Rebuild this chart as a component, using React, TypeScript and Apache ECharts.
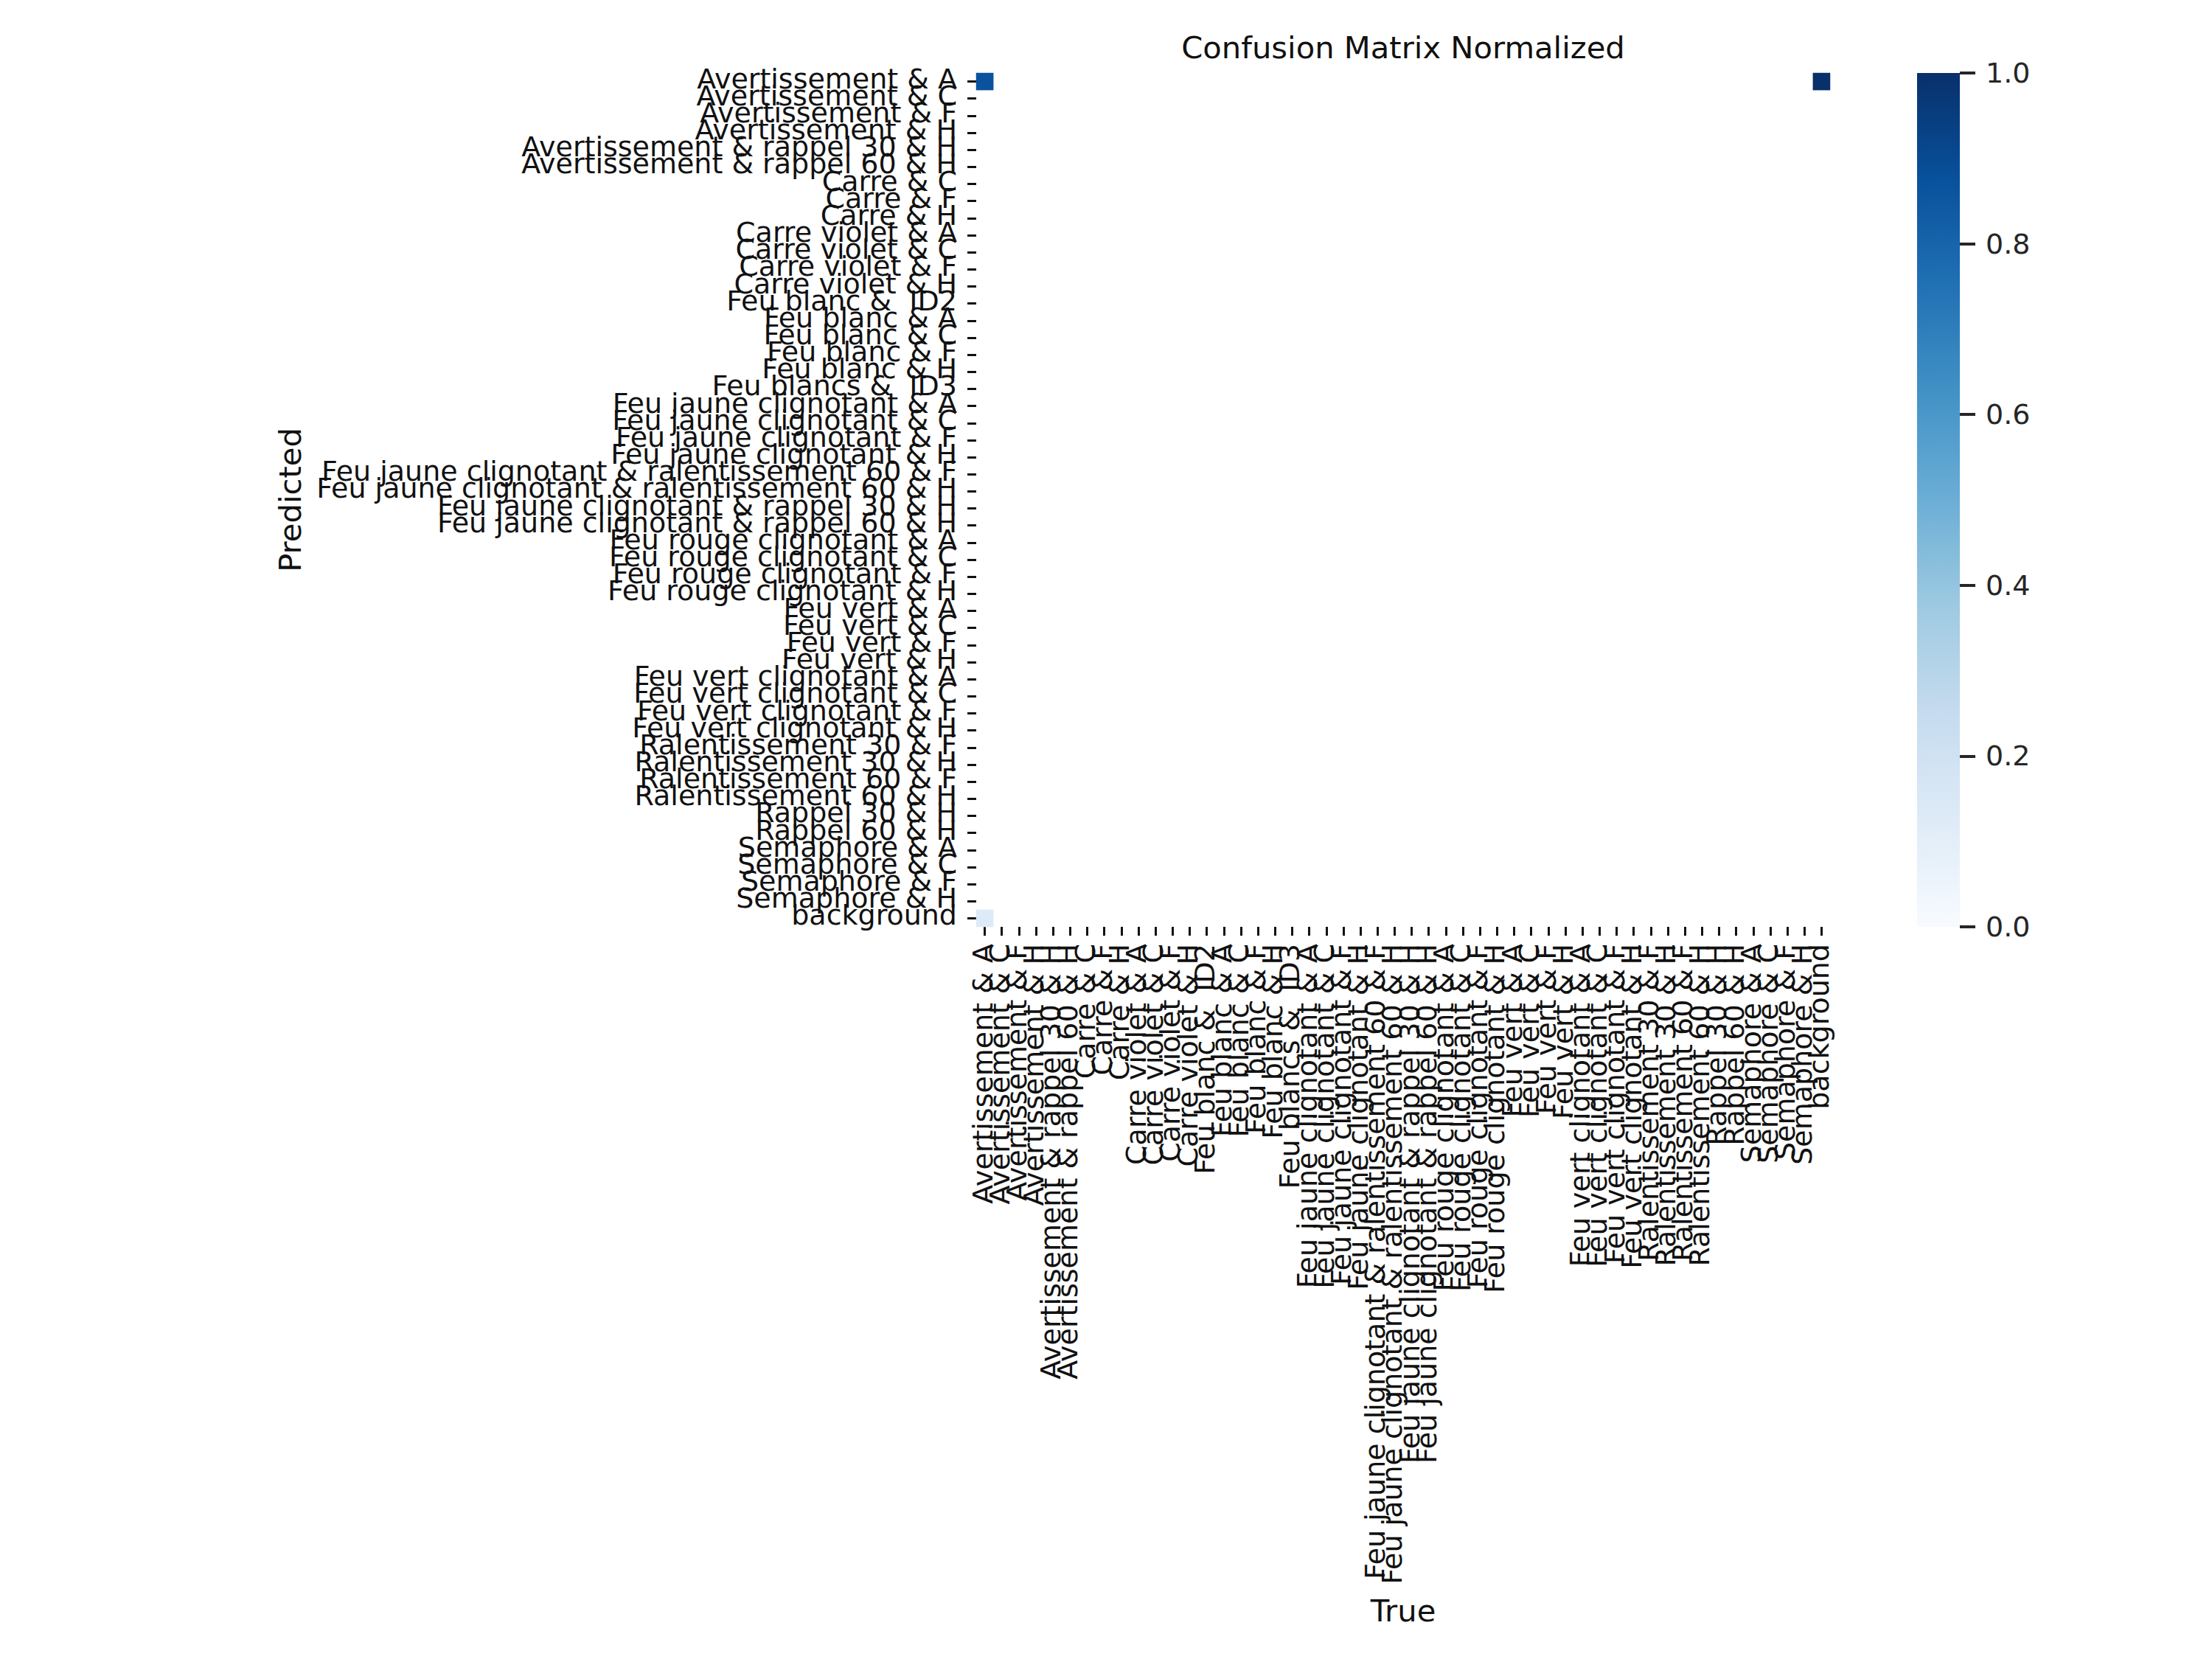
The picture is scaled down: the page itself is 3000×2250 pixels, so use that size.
import React, { useEffect, useRef } from "react";
import * as echarts from "echarts";

const categories = [
  "Avertissement & A",
  "Avertissement & C",
  "Avertissement & F",
  "Avertissement & H",
  "Avertissement & rappel 30 & H",
  "Avertissement & rappel 60 & H",
  "Carre & C",
  "Carre & F",
  "Carre & H",
  "Carre violet & A",
  "Carre violet & C",
  "Carre violet & F",
  "Carre violet & H",
  "Feu blanc &  ID2",
  "Feu blanc & A",
  "Feu blanc & C",
  "Feu blanc & F",
  "Feu blanc & H",
  "Feu blancs &  ID3",
  "Feu jaune clignotant & A",
  "Feu jaune clignotant & C",
  "Feu jaune clignotant & F",
  "Feu jaune clignotant & H",
  "Feu jaune clignotant & ralentissement 60 & F",
  "Feu jaune clignotant & ralentissement 60 & H",
  "Feu jaune clignotant & rappel 30 & H",
  "Feu jaune clignotant & rappel 60 & H",
  "Feu rouge clignotant & A",
  "Feu rouge clignotant & C",
  "Feu rouge clignotant & F",
  "Feu rouge clignotant & H",
  "Feu vert & A",
  "Feu vert & C",
  "Feu vert & F",
  "Feu vert & H",
  "Feu vert clignotant & A",
  "Feu vert clignotant & C",
  "Feu vert clignotant & F",
  "Feu vert clignotant & H",
  "Ralentissement 30 & F",
  "Ralentissement 30 & H",
  "Ralentissement 60 & F",
  "Ralentissement 60 & H",
  "Rappel 30 & H",
  "Rappel 60 & H",
  "Semaphore & A",
  "Semaphore & C",
  "Semaphore & F",
  "Semaphore & H",
  "background",
];

// Non-empty cells of the normalized matrix (cells below 0.005 are blank)
const cellTrue = ["Avertissement & A", "background", "Avertissement & A"];
const cellPredicted = ["Avertissement & A", "Avertissement & A", "background"];
const cellValues = [0.87, 1.0, 0.13];

const colorbarTickInterval = 0.2;
const bluesColors = [
  "#f7fbff",
  "#deebf7",
  "#c6dbef",
  "#9ecae1",
  "#6baed6",
  "#4292c6",
  "#2171b5",
  "#08519c",
  "#08306b",
];

const FONT = "DejaVu Sans";

export default function App() {
  const ref = useRef<HTMLDivElement>(null);
  useEffect(() => {
    if (!ref.current) return;
    const chart = echarts.init(ref.current, undefined, { renderer: "svg" });
    const heatData = cellValues.map((v, i) => [
      categories.indexOf(cellTrue[i]),
      categories.indexOf(cellPredicted[i]),
      v,
    ]);
    const gradient = new echarts.graphic.LinearGradient(
      0,
      1,
      0,
      0,
      bluesColors.map((c, i) => ({ offset: i / (bluesColors.length - 1), color: c }))
    );
    const option = {
      animation: false,
      backgroundColor: "#ffffff",
      textStyle: { fontFamily: FONT },
      grid: [
        { left: 1324, top: 99, width: 1158, height: 1158 },
        { left: 2600, top: 99, width: 58, height: 1158 },
      ],
      xAxis: [
        {
          type: "category",
          gridIndex: 0,
          data: categories,
          position: "bottom",
          axisLine: { show: false },
          axisTick: {
            show: true,
            alignWithLabel: true,
            interval: 0,
            length: 12,
            lineStyle: { color: "#111111", width: 3 },
          },
          axisLabel: {
            interval: 0,
            rotate: 90,
            margin: 23,
            fontSize: 38,
            color: "#111111",
            fontFamily: FONT,
            formatter: (v: string) => `{t|${v}}`,
            rich: {
              t: { fontSize: 38, fontFamily: FONT, color: "#111111", padding: [0, 0, 6, 0] },
            },
          },
          splitLine: { show: false },
          splitArea: { show: false },
        },
        { type: "category", gridIndex: 1, data: [""], show: false },
      ],
      yAxis: [
        {
          type: "category",
          gridIndex: 0,
          data: categories,
          inverse: true,
          axisLine: { show: false },
          axisTick: {
            show: true,
            alignWithLabel: true,
            interval: 0,
            length: 12,
            lineStyle: { color: "#111111", width: 3 },
          },
          axisLabel: {
            interval: 0,
            margin: 26,
            fontSize: 38,
            color: "#111111",
            fontFamily: FONT,
            formatter: (v: string) => `{t|${v}}`,
            rich: {
              t: { fontSize: 38, fontFamily: FONT, color: "#111111", padding: [0, 0, 8, 0] },
            },
          },
          splitLine: { show: false },
          splitArea: { show: false },
        },
        {
          type: "value",
          gridIndex: 1,
          min: 0,
          max: 1,
          interval: colorbarTickInterval,
          position: "right",
          axisLine: { show: false },
          axisTick: { show: true, length: 21, lineStyle: { color: "#262626", width: 4 } },
          axisLabel: {
            margin: 35,
            fontSize: 38,
            color: "#262626",
            fontFamily: FONT,
            formatter: (v: number) => v.toFixed(1),
          },
          splitLine: { show: false },
        },
      ],
      visualMap: {
        show: false,
        type: "continuous",
        min: 0,
        max: 1,
        seriesIndex: 0,
        inRange: { color: bluesColors },
      },
      series: [
        {
          type: "heatmap",
          xAxisIndex: 0,
          yAxisIndex: 0,
          data: heatData,
          emphasis: { disabled: true },
          silent: true,
        },
        {
          type: "bar",
          xAxisIndex: 1,
          yAxisIndex: 1,
          data: [1],
          barWidth: "100%",
          itemStyle: { color: gradient },
          silent: true,
        },
      ],
      graphic: [
        {
          type: "text",
          x: 1903,
          y: 64,
          style: {
            text: "Confusion Matrix Normalized",
            align: "center",
            verticalAlign: "middle",
            font: `41.7px "${FONT}"`,
            fill: "#111111",
          },
        },
        {
          type: "text",
          x: 1903,
          y: 2184,
          style: {
            text: "True",
            align: "center",
            verticalAlign: "middle",
            font: `41.7px "${FONT}"`,
            fill: "#111111",
          },
        },
        {
          type: "text",
          x: 393,
          y: 678,
          rotation: Math.PI / 2,
          style: {
            text: "Predicted",
            align: "center",
            verticalAlign: "middle",
            font: `41.7px "${FONT}"`,
            fill: "#111111",
          },
        },
      ],
    };
    chart.setOption(option as any);
    return () => chart.dispose();
  }, []);
  return (
    <div
      ref={ref}
      style={{ position: "absolute", left: 0, top: 0, width: 3000, height: 2250 }}
    />
  );
}
